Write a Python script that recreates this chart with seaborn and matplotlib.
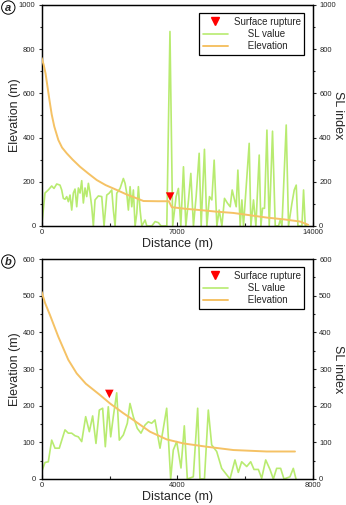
import matplotlib
matplotlib.use("Agg")
import matplotlib.pyplot as plt
import seaborn as sns
import pandas as pd
from matplotlib.lines import Line2D
from matplotlib.ticker import MultipleLocator

# ---------------- data ----------------
# Panel a
elev_a_dist = [0, 100, 200, 300, 400, 516, 650, 860, 1050, 1291, 1600, 1979, 2400, 2840, 3300,
               3874, 4400, 4908, 5250, 6000, 6560, 6714, 7400, 8180, 9000, 9890, 10800, 11620,
               12500, 13345, 13760]
elev_a = [760, 730, 690, 630, 570, 505, 450, 389, 355, 329, 300, 268, 238, 208, 185,
          163, 142, 125, 113, 112, 112, 85, 78, 72, 65, 59, 48, 38, 30, 20, 5]
sl_a_dist = [0, 119, 170, 341, 516, 635, 775, 945, 1033, 1117, 1204, 1291, 1376, 1462, 1550,
             1634, 1720, 1808, 1893, 1979, 2066, 2150, 2237, 2324, 2409, 2495, 2583, 2666,
             2753, 2925, 3100, 3218, 3358, 3477, 3616, 3699, 3787, 3874, 4045, 4215, 4303,
             4390, 4474, 4562, 4649, 4732, 4820, 4908, 4990, 5078, 5166, 5336, 5424, 5683,
             5853, 6024, 6163, 6457, 6620, 6760, 6938, 7056, 7180, 7317, 7440, 7577, 7697,
             7832, 7971, 8127, 8230, 8400, 8524, 8659, 8782, 8901, 9041, 9160, 9299, 9434,
             9589, 9728, 9831, 9934, 10038, 10125, 10245, 10332, 10414, 10709, 10797, 10932,
             11055, 11226, 11314, 11397, 11500, 11624, 11743, 11913, 12053, 12223, 12310,
             12400, 12620, 12739, 12915, 13034, 13137, 13225, 13431, 13515, 13602, 13750]
sl_a = [0, 104, 149, 163, 181, 170, 190, 185, 163, 125, 121, 133, 110, 140, 72,
        149, 167, 87, 172, 149, 205, 104, 172, 133, 193, 149, 87, 0,
        118, 136, 133, 0, 140, 148, 163, 72, 0, 148, 170, 215, 193,
        148, 72, 178, 87, 163, 0, 57, 178, 72, 0, 27, 0, 0,
        20, 15, 0, 0, 880, 0, 133, 170, 0, 268, 0, 118, 238,
        0, 133, 329, 0, 347, 0, 133, 118, 298, 0, 72, 0, 125,
        103, 87, 163, 125, 87, 253, 0, 118, 0, 374, 0, 118,
        0, 321, 0, 80, 80, 434, 0, 429, 0, 0, 27,
        0, 457, 0, 103, 163, 185, 0, 0, 163, 0, 0]
rupture_a_dist = [6628]
rupture_a_val = [133]

# Panel b
elev_b_dist = [0, 100, 245, 490, 785, 1032, 1300, 1720, 2015, 2400, 2702, 3194, 3686, 4177,
               4866, 5650, 6636, 7470]
elev_b = [510, 480, 447, 388, 325, 288, 260, 229, 206, 180, 161, 129, 108, 97, 88, 79, 75, 75]
sl_b_dist = [0, 97, 195, 295, 392, 519, 687, 785, 884, 982, 1080, 1180, 1297, 1405, 1503,
             1601, 1699, 1798, 1876, 1964, 2035, 2112, 2212, 2289, 2407, 2525, 2604, 2702,
             2820, 2928, 3046, 3144, 3244, 3341, 3489, 3686, 3804, 3881, 3981, 4108, 4206,
             4295, 4471, 4600, 4668, 4800, 4914, 5013, 5161, 5308, 5553, 5700, 5798, 5898,
             6046, 6164, 6261, 6390, 6488, 6606, 6733, 6831, 6929, 7047, 7145, 7322, 7420, 7500]
sl_b = [20, 45, 47, 106, 84, 84, 134, 125, 125, 118, 115, 102, 170, 129, 172,
        97, 188, 193, 88, 197, 115, 170, 235, 106, 120, 152, 206, 170,
        138, 125, 147, 156, 152, 161, 84, 193, 0, 79, 102, 30, 145,
        0, 6, 193, 0, 0, 188, 93, 75, 29, 0, 52, 18, 47,
        34, 47, 26, 26, 2, 52, 26, 0, 29, 29, 0, 6, 29, 0]
rupture_b_dist = [1995]
rupture_b_val = [232]

# ---------------- style ----------------
sns.set_style("ticks")
plt.rcParams['font.family'] = ['Liberation Sans', 'DejaVu Sans']
GREEN = "#b8eb70"
ORANGE = "#f5c265"
RED = "#ff0000"

fig = plt.figure(figsize=(3.46, 5.05), dpi=100)

panels = [
    dict(rect=[0.1205, 0.5525, 0.784, 0.4376], xmax=14000, xmaj=7000, ymax=1000, ymaj=200,
         ed=elev_a_dist, ev=elev_a, sd=sl_a_dist, sv=sl_a, rd=rupture_a_dist, rv=rupture_a_val,
         label="a"),
    dict(rect=[0.1205, 0.0515, 0.784, 0.4356], xmax=8000, xmaj=4000, ymax=600, ymaj=100,
         ed=elev_b_dist, ev=elev_b, sd=sl_b_dist, sv=sl_b, rd=rupture_b_dist, rv=rupture_b_val,
         label="b"),
]

axes_main = []
for i, p in enumerate(panels):
    ax = fig.add_axes(p["rect"])
    ax2 = ax.twinx()
    axes_main.append(ax)
    df_sl = pd.DataFrame({"d": p["sd"], "v": p["sv"]})
    df_el = pd.DataFrame({"d": p["ed"], "v": p["ev"]})
    df_r = pd.DataFrame({"d": p["rd"], "v": p["rv"]})
    sns.lineplot(data=df_sl, x="d", y="v", ax=ax2, color=GREEN, lw=1.2, sort=False,
                 estimator=None, zorder=2)
    sns.lineplot(data=df_el, x="d", y="v", ax=ax, color=ORANGE, lw=1.4, sort=False,
                 estimator=None, zorder=3)
    sns.scatterplot(data=df_r, x="d", y="v", ax=ax, marker="v", color=RED, s=38,
                    edgecolor="none", zorder=4)
    ax.set_zorder(ax2.get_zorder() + 1)
    ax.patch.set_visible(False)

    for a in (ax, ax2):
        a.set_xlim(0, p["xmax"])
        a.set_ylim(0, p["ymax"])
        a.yaxis.set_major_locator(MultipleLocator(p["ymaj"]))
        a.yaxis.set_minor_locator(MultipleLocator(p["ymaj"] / 2))
        for s in a.spines.values():
            s.set_visible(True)
            s.set_linewidth(0.9)
            s.set_color("black")
    ax.xaxis.set_major_locator(MultipleLocator(p["xmaj"]))
    ax.xaxis.set_minor_locator(MultipleLocator(p["xmaj"] / 2))
    ax.tick_params(axis="x", which="both", direction="in", labelsize=5.5, pad=2.5, width=0.8)
    ax.tick_params(axis="x", which="major", length=3)
    ax.tick_params(axis="x", which="minor", length=2)
    ax.tick_params(axis="y", which="major", direction="out", length=2.5, labelsize=5.5, pad=2, width=0.8)
    ax.tick_params(axis="y", which="minor", direction="out", length=1.5, width=0.8)
    ax2.tick_params(axis="y", which="major", direction="out", length=2.5, labelsize=5.5, pad=2, width=0.8)
    ax2.tick_params(axis="y", which="minor", direction="out", length=1.5, width=0.8)

    ax.set_xlabel("Distance (m)", fontsize=9, labelpad=1)
    ax.set_ylabel("Elevation (m)", fontsize=9, va="center")
    ax2.set_ylabel("SL index", fontsize=9, rotation=270, va="center")
    ax.yaxis.set_label_coords(-0.098, 0.5)
    ax2.yaxis.set_label_coords(1.092, 0.5)

    handles = [
        Line2D([], [], marker="v", color=RED, linestyle="none", markersize=6),
        Line2D([], [], color=GREEN, lw=1.2),
        Line2D([], [], color=ORANGE, lw=1.4),
    ]
    labels = ["Surface rupture", "     SL value", "     Elevation"]
    leg = ax.legend(handles, labels, loc="upper right", fontsize=7, frameon=True,
                    fancybox=False, edgecolor="black", framealpha=1, handlelength=2.6,
                    borderpad=0.35, labelspacing=0.25, handletextpad=0.6,
                    bbox_to_anchor=(0.985, 0.985))
    leg.get_frame().set_linewidth(0.9)

    x0, y0, w, h = p["rect"]
    fig.text(0.024, y0 + h - 0.005, p["label"], fontsize=8, fontweight="bold", style="italic",
             ha="center", va="center",
             bbox=dict(boxstyle="circle,pad=0.15", fc="white", ec="black", lw=0.7))

fig.canvas.draw()
ticks = axes_main[0].xaxis.get_major_ticks()
ticks[-1].label1.set_horizontalalignment("right")

fig.savefig("out.png", dpi=100)
